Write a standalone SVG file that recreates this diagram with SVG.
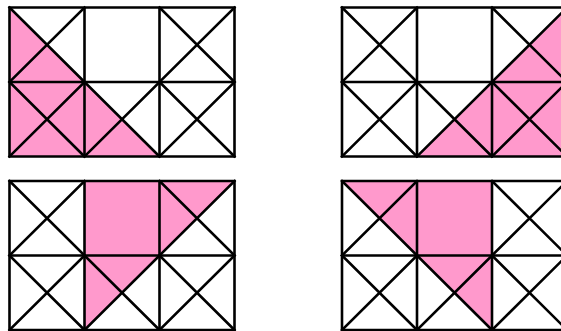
<svg xmlns="http://www.w3.org/2000/svg" xmlns:xlink="http://www.w3.org/1999/xlink" width="561" height="331" viewBox="0 0 561 331">
  <style>
    .pink { fill: #FF99CC; stroke: none; }
    .ln { fill: none; stroke: #000; stroke-width: 2.6; stroke-linecap: square; }
  </style>
  <defs>
    <path id="frame" class="ln" d="M0,0 H225 V149 H0 Z M75,0 V149 M150,0 V149 M0,74.5 H225"/>
    <path id="cross" class="ln" d="M0,0 L75,74.5 M75,0 L0,74.5"/>
    <g id="crosses">
      <use xlink:href="#cross" x="0" y="0"/>
      <use xlink:href="#cross" x="150" y="0"/>
      <use xlink:href="#cross" x="0" y="74.5"/>
      <use xlink:href="#cross" x="75" y="74.5"/>
      <use xlink:href="#cross" x="150" y="74.5"/>
    </g>
  </defs>
  <rect width="561" height="331" fill="#fff"/>
  <g id="panel-top-left" transform="translate(9.5,7.5)">
    <polygon class="pink" points="0,0 0,149 150,149"/>
    <use xlink:href="#crosses"/>
    <use xlink:href="#frame"/>
  </g>
  <g id="panel-top-right" transform="translate(342,7.5)">
    <polygon class="pink" points="75,149 225,0 225,149"/>
    <use xlink:href="#crosses"/>
    <use xlink:href="#frame"/>
  </g>
  <g id="panel-bottom-left" transform="translate(9.5,181)">
    <polygon class="pink" points="75,0 225,0 75,149"/>
    <use xlink:href="#crosses"/>
    <use xlink:href="#frame"/>
  </g>
  <g id="panel-bottom-right" transform="translate(342,181)">
    <polygon class="pink" points="0,0 150,0 150,149"/>
    <use xlink:href="#crosses"/>
    <use xlink:href="#frame"/>
  </g>
</svg>
